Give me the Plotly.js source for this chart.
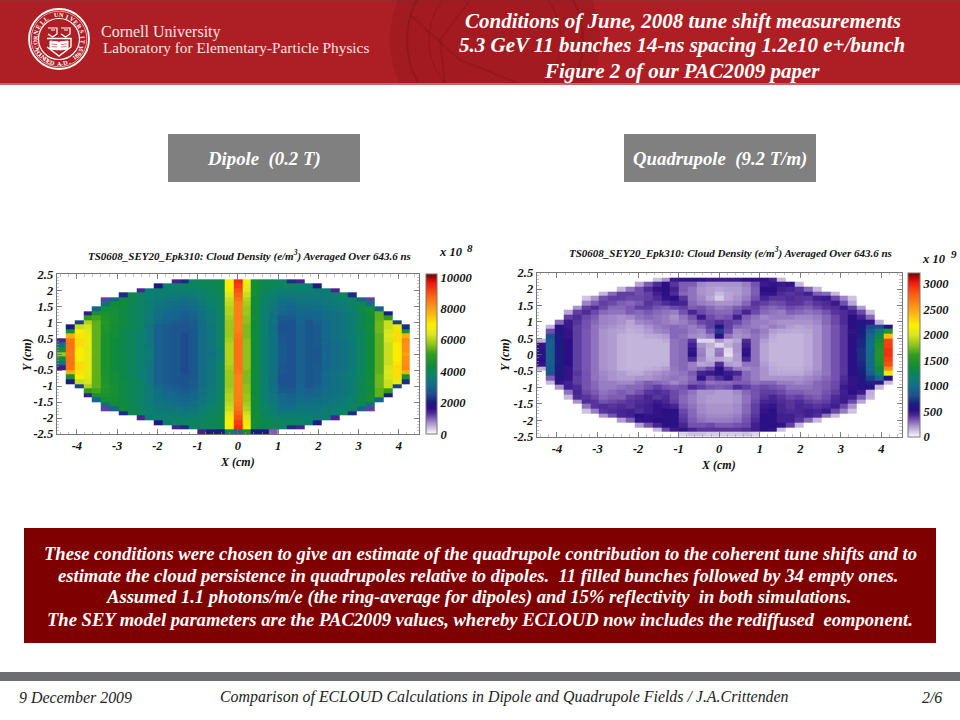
<!DOCTYPE html>
<html><head><meta charset="utf-8">
<script src="https://cdn.plot.ly/plotly-3.0.1.min.js"></script>
<style>html,body{margin:0;padding:0;background:#fff}#c{width:960px;height:720px}</style>
</head><body><div id="c"></div>
<script>
const _ = null;
const at = (start, vals) => Array(start).fill(_).concat(vals);

const xCentres = [-4.39,-4.17,-3.95,-3.73,-3.51,-3.29,-3.07,-2.85,-2.63,-2.41,-2.2,-1.98,-1.76,-1.54,-1.32,-1.1,-0.88,-0.66,-0.44,-0.22,0,0.22,0.44,0.66,0.88,1.1,1.32,1.54,1.76,1.98,2.2,2.41,2.63,2.85,3.07,3.29,3.51,3.73,3.95,4.17,4.39];
const yCentres = [2.429,2.286,2.143,2,1.857,1.714,1.571,1.429,1.286,1.143,1,0.857,0.714,0.571,0.429,0.286,0.143,0,-0.143,-0.286,-0.429,-0.571,-0.714,-0.857,-1,-1.143,-1.286,-1.429,-1.571,-1.714,-1.857,-2,-2.143,-2.286,-2.429];
const xTickVals = [-4,-3,-2,-1,0,1,2,3,4];
const xTickText = ['-4','-3','-2','-1','0','1','2','3','4'];
const yTickVals = [-2.5,-2,-1.5,-1,-0.5,0,0.5,1,1.5,2,2.5];
const yTickText = ['-2.5','-2','-1.5','-1','-0.5','0','0.5','1','1.5','2','2.5'];
const dipoleBarVals = [0,2000,4000,6000,8000,10000];
const dipoleBarText = ['0','2000','4000','6000','8000','10000'];
const quadBarVals = [0,500,1000,1500,2000,2500,3000];
const quadBarText = ['0','500','1000','1500','2000','2500','3000'];

// dipole cloud density, read per cell, in units of 100 (x 10^8 e/m3)
const dipoleDensity = [
 at(41,[]),
 at(13,[14,22,38,40,40,41,68,94,68,44,40,40,38,22,14]),
 at(11,[20,36,38,39,39,39,40,41,68,92,66,44,41,40,39,39,38,36,20]),
 at(9,[14,35,37,37,37,37,37,38,39,41,67,90,64,44,40,38,37,37,37,37,36,35,14]),
 at(7,[22,41,39,37,36,36,35,35,35,37,38,40,64,88,62,44,39,37,35,35,35,35,35,36,37,39,22]),
 at(5,[12,30,42,41,38,37,35,34,34,33,34,36,38,40,62,86,60,43,38,36,33,33,34,34,34,35,36,37,39,30,12]),
 at(5,[33,43,43,40,38,36,34,33,32,32,32,35,37,39,61,84,59,43,38,35,32,31,33,33,33,34,35,36,38,40,33]),
 at(4,[30,44,44,42,40,38,36,33,32,31,30,31,34,36,39,60,84,58,43,37,34,31,30,32,31,32,33,34,35,37,42,44,30]),
 at(3,[15,46,46,45,42,40,38,35,33,31,30,29,30,33,35,38,60,84,58,43,37,34,30,29,31,30,30,32,33,34,36,40,44,54,20]),
 at(3,[50,52,47,45,42,40,38,35,32,30,29,28,29,33,35,38,59,84,57,43,37,33,28,28,30,29,30,32,33,34,36,40,43,54,50]),
 at(2,[24,60,54,48,45,42,40,38,35,31,29,28,27,28,32,35,38,58,84,57,43,37,33,27,26,30,27,29,31,33,34,36,40,43,55,62,24]),
 at(1,[20,62,63,54,47,44,42,40,38,34,29,28,27,26,28,32,34,38,58,84,56,43,37,32,26,26,29,27,28,31,33,34,36,40,44,55,62,66,22]),
 at(1,[45,68,65,54,47,44,41,39,37,34,29,28,27,26,27,32,34,38,58,84,56,43,37,33,26,26,29,27,28,31,33,34,36,40,43,55,63,72,45]),
 at(1,[78,71,66,54,46,44,41,39,37,34,29,28,27,25,27,32,34,38,58,85,56,43,37,33,27,26,29,27,28,31,33,34,36,39,43,54,64,72,78]),
 [14,85,72,66,54,46,43,41,39,37,34,29,28,27,25,27,32,34,38,59,86,57,43,37,33,27,26,29,27,28,30,32,33,35,39,43,54,63,72,83],
 [33,86,72,66,54,46,43,41,39,37,34,29,28,27,25,27,32,34,38,60,86,57,43,37,33,28,26,29,27,28,30,32,33,35,39,43,54,62,70,82],
 [44,86,70,65,54,46,43,41,39,37,35,29,28,27,25,27,32,34,37,60,86,57,43,37,33,28,26,29,27,27,30,32,33,35,39,43,54,62,70,82],
 [58,85,70,66,54,46,43,41,39,37,35,29,28,27,25,27,32,33,37,60,86,57,43,37,33,28,26,29,27,27,30,32,33,35,39,43,54,62,70,80],
 [44,86,70,65,54,46,43,41,39,37,35,29,28,27,25,27,32,34,37,60,86,57,43,37,33,28,26,29,27,27,30,32,33,35,39,43,54,62,70,82],
 [33,86,72,66,54,46,43,41,39,37,34,29,28,27,25,27,32,34,38,60,86,57,43,37,33,28,26,29,27,28,30,32,33,35,39,43,54,62,71,82],
 [15,85,72,66,54,46,43,41,39,37,34,29,28,27,25,27,32,34,38,59,86,57,43,37,33,27,26,29,27,28,30,32,33,35,39,43,54,63,72,83],
 at(1,[78,71,66,54,46,44,41,39,37,34,29,28,27,25,27,32,34,38,58,85,56,43,37,33,27,26,29,27,28,31,33,34,36,39,43,54,64,72,78]),
 at(1,[45,68,65,54,47,44,41,39,37,34,29,28,27,26,27,32,34,38,58,84,56,43,37,33,26,26,29,27,28,31,33,34,36,40,43,55,63,72,45]),
 at(1,[20,62,63,54,47,44,42,40,38,34,29,28,27,26,28,32,34,38,58,84,56,43,37,32,26,26,29,27,28,31,33,34,36,40,44,55,62,66,22]),
 at(2,[24,60,54,48,45,42,40,38,35,31,29,28,27,28,32,35,38,58,84,57,43,37,33,27,26,30,27,29,31,33,34,36,40,43,55,62,24]),
 at(3,[50,52,47,45,42,40,38,35,32,30,29,28,29,33,35,38,59,84,57,43,37,33,28,28,30,29,30,32,33,34,36,40,43,54,50]),
 at(3,[15,46,46,45,42,40,38,35,33,31,30,29,30,33,35,38,60,84,58,43,37,34,30,29,31,30,30,32,33,34,36,40,44,54,20]),
 at(4,[30,44,44,42,40,38,36,33,32,31,30,31,34,36,39,60,84,58,43,37,34,31,30,32,31,32,33,34,35,37,42,44,30]),
 at(5,[33,43,43,40,38,36,34,33,32,32,32,35,37,39,61,85,59,43,38,35,32,31,33,33,33,34,35,36,38,40,33]),
 at(5,[12,30,42,41,38,37,35,34,34,33,34,36,38,40,62,86,60,43,38,36,33,33,34,34,34,35,36,37,39,30,12]),
 at(7,[22,41,39,37,36,36,35,35,35,37,38,40,64,88,62,44,39,37,35,35,35,35,35,36,37,39,22]),
 at(9,[14,35,37,37,37,37,37,38,39,41,67,90,64,44,40,38,37,37,37,37,36,35,14]),
 at(11,[20,36,38,39,39,39,40,41,68,92,66,44,41,40,39,39,38,36,20]),
 at(13,[14,22,38,40,40,41,68,94,68,44,40,40,38,22,14]),
 at(16,[14,20,20,38,33,45,20,20,10])
];

// quadrupole cloud density, read per cell, in units of 10 (x 10^9 e/m3)
const quadDensity = [
 at(41,[]),
 at(13,[12,22,48,50,50,50,48,48,48,48,50,50,50,45,14]),
 at(11,[18,32,42,52,40,32,32,24,22,22,22,22,26,34,48,50,48,50,14]),
 at(9,[15,28,35,42,50,52,45,32,28,22,20,18,20,20,24,32,52,52,46,44,40,30,14]),
 at(7,[15,30,38,38,35,38,46,52,42,30,28,22,20,14,18,20,24,32,50,50,42,40,42,46,32,30,14]),
 at(5,[12,22,35,38,38,36,36,38,42,50,52,40,28,24,18,10,18,22,26,34,45,40,40,42,40,40,46,48,36,25,12]),
 at(5,[25,32,38,36,32,30,33,40,38,42,46,45,30,26,24,22,22,24,30,40,38,35,36,40,40,36,40,42,48,35,18]),
 at(4,[22,38,42,36,30,30,33,38,38,34,32,36,38,32,34,30,26,28,32,36,38,32,30,32,36,34,32,36,40,42,48,38,20]),
 at(3,[18,38,42,36,30,28,28,32,30,33,30,28,26,34,44,36,32,30,30,36,44,36,30,28,26,32,30,28,30,34,40,42,46,36,14]),
 at(3,[38,42,36,32,25,24,22,24,28,30,28,26,22,28,34,48,36,32,34,46,32,28,24,26,26,26,24,24,26,30,36,42,52,45,30]),
 at(2,[30,48,40,34,30,25,24,22,18,24,26,28,26,24,26,30,36,38,42,38,36,30,26,26,24,22,22,22,22,24,30,36,42,52,60,50,16]),
 at(1,[15,55,48,38,34,28,24,22,20,17,18,22,26,28,30,28,26,30,38,52,38,30,28,26,24,26,24,20,18,20,22,28,34,40,52,62,78,80,55]),
 at(1,[35,58,50,38,33,28,22,20,18,16,17,20,24,26,30,30,26,24,34,75,36,24,26,30,26,20,18,17,17,18,22,28,34,40,50,62,88,110,150]),
 at(1,[84,62,50,38,33,28,22,20,16,15,15,17,18,20,30,28,24,22,26,52,28,22,24,28,24,17,15,15,15,17,22,28,34,40,52,66,95,130,240]),
 [15,88,62,52,38,33,28,22,20,16,15,15,15,15,17,28,30,40,8,8,22,14,18,42,28,20,16,15,15,15,17,22,28,34,40,52,68,98,140,290],
 [50,90,64,52,38,33,28,22,20,16,15,15,15,15,15,28,30,46,22,16,8,16,22,46,28,18,15,15,15,15,17,22,28,34,40,52,68,100,145,290],
 [55,90,64,52,38,33,28,22,20,16,15,15,15,15,15,28,30,50,25,14,26,8,22,50,28,18,15,15,15,15,17,22,28,34,40,52,70,100,150,295],
 [58,90,64,52,38,33,28,22,20,16,15,15,15,15,15,28,30,52,26,14,28,6,20,52,28,18,15,15,15,15,17,22,28,34,40,52,70,100,150,295],
 [52,90,64,52,38,33,28,22,20,16,15,15,15,15,15,28,30,42,24,16,18,14,20,44,28,18,15,15,15,15,17,22,28,34,40,52,70,100,150,290],
 [50,90,64,52,38,33,28,22,20,16,15,15,15,15,16,28,30,26,18,20,42,20,18,28,28,20,16,15,15,15,17,22,28,34,40,52,68,98,145,285],
 [15,88,62,50,38,33,28,22,20,16,15,15,16,17,20,27,30,26,30,36,52,36,26,24,26,22,17,16,16,16,18,22,28,34,40,52,66,95,135,260],
 at(1,[84,60,50,40,34,28,24,22,20,17,17,20,22,24,26,28,32,45,48,55,48,44,30,26,22,18,17,17,17,20,24,28,34,40,52,64,90,120,210]),
 at(1,[32,58,50,38,34,28,25,22,20,20,22,22,24,26,28,26,30,50,36,42,50,36,30,26,22,22,22,22,22,24,26,30,34,42,50,60,75,95,55]),
 at(1,[14,50,46,38,34,30,26,26,24,24,28,32,30,28,24,28,32,34,28,30,30,32,32,28,30,30,26,26,24,26,30,32,36,44,50,58,68,50,14]),
 at(2,[22,46,42,34,30,26,26,28,30,30,34,38,34,32,34,42,38,34,32,34,42,38,34,36,34,32,28,28,28,30,32,36,48,50,55,55,14]),
 at(3,[28,44,36,32,28,30,32,30,34,40,42,40,36,32,28,22,22,20,20,24,30,34,38,38,36,32,32,30,30,34,38,46,52,48,16]),
 at(3,[14,42,40,36,30,32,32,38,40,44,40,42,36,30,26,22,20,20,20,22,28,34,40,44,40,36,38,34,32,36,42,48,46,32,14]),
 at(4,[22,42,40,34,36,38,40,42,44,48,44,38,30,26,22,20,20,20,22,28,36,44,46,42,40,42,38,36,38,44,48,36,18]),
 at(5,[28,40,42,40,42,40,44,46,50,48,44,32,28,24,22,22,22,24,30,38,48,50,44,40,44,42,40,42,46,36,22]),
 at(5,[12,26,40,42,44,46,42,46,50,52,52,36,30,24,22,22,22,24,30,38,50,52,44,42,44,46,44,48,36,26,12]),
 at(7,[22,34,44,46,52,50,50,54,54,38,30,26,24,24,24,26,32,40,52,52,46,46,42,46,42,28,14]),
 at(9,[20,32,50,50,52,54,54,40,32,28,26,26,26,28,34,42,52,54,46,46,40,30,14]),
 at(11,[20,34,44,54,54,44,34,34,36,32,32,34,36,46,54,52,50,38,14]),
 at(13,[14,36,48,50,44,40,40,40,40,40,42,46,52,50,12]),
 at(16,[8,12,12,10,10,10,10,12,8])
];

const paletteStops = [0,0.02,0.045,0.07,0.1,0.13,0.16,0.2,0.25,0.3,0.36,0.42,0.5,0.56,0.62,0.68,0.74,0.8,0.87,0.94,1];
const paletteColours = ['#ffffff','#e4dcf0','#c4b6dc','#a890cc','#7c5cb4','#4e2c98','#2e0f85','#1c1c80','#1f4f8f','#15688e','#0c8070','#0f8a3c','#2f9e1e','#8ec31b','#d8e61e','#fdf100','#fdc010','#fb9218','#f95e14','#f01a10','#7a0000'];
const paletteScale = paletteStops.map((s,i)=>[s,paletteColours[i]]);

const X = px => px/960, Y = py => 1-py/720;
const serif = 'Liberation Serif';
const biFont = (size,color) => ({family:serif,size,color:color||'#111',weight:'bold',style:'italic'});

function rect(x0,y0,x1,y1,fill){return {type:'rect',xref:'paper',yref:'paper',x0:X(x0),x1:X(x1),y0:Y(y0),y1:Y(y1),fillcolor:fill,line:{width:0},layer:'below'};}
function circle(cx,cy,r,line,fill,w){return {type:'circle',xref:'paper',yref:'paper',x0:X(cx-r),x1:X(cx+r),y0:Y(cy+r),y1:Y(cy-r),fillcolor:fill||'rgba(0,0,0,0)',line:{color:line||'rgba(0,0,0,0)',width:w===undefined?1:w},layer:'below'};}
function poly(pts,line,w,fill){return {type:'path',xref:'paper',yref:'paper',path:'M'+pts.map(p=>X(p[0])+' '+Y(p[1])).join(' L')+(fill?' Z':''),line:{color:line,width:w},fillcolor:fill||'rgba(0,0,0,0)',layer:'below'};}
function txt(x,y,text,font,opt){return Object.assign({xref:'paper',yref:'paper',x:X(x),y:Y(y),text,font,showarrow:false,xanchor:'center',yanchor:'middle',borderpad:0},opt||{});}

const W='#fff';
const shapes=[
 rect(0,0,960,84,'#ae1f25'),
 rect(0,0,960,1.5,'#9a2a2e'),
 circle(495,40,105,null,'rgba(125,15,20,0.22)'),
 circle(495,40,88,'rgba(100,8,12,0.22)','rgba(165,28,34,0.30)',2),
 circle(495,40,66,'rgba(100,8,12,0.18)','rgba(0,0,0,0)',1.2),
 poly([[410,15],[460,60],[520,84]],'rgba(100,8,12,0.16)',2),
 poly([[470,0],[440,40],[445,84]],'rgba(100,8,12,0.16)',2),
 rect(0,83,960,85,'#c9656a'),
 rect(0,85,960,720,'#ffffff'),
 rect(168,134,360,182,'#808080'),
 rect(624,134,816,182,'#808080'),
 rect(24,528,936,643,'#7f0000'),
 rect(0,672,960,681,'#6d6e71'),
 circle(59,39,30,W,null,1.8),
 circle(59,39,27.8,W,null,0.6),
 circle(59,39,20.5,W,null,1.2),
 poly([[48,28],[57,28],[57,34],[52.5,37],[48,34]],W,1.2),
 poly([[61,28],[70,28],[70,34],[65.5,37],[61,34]],W,1.2),
 poly([[47,38.5],[71,38.5],[71,47],[59,56],[47,47]],W,1.4),
 poly([[50,41],[58.5,42],[58.5,50],[50,49]],W,1,W),
 poly([[68,41],[59.5,42],[59.5,50],[68,49]],W,1,W),
 poly([[51,30],[55,30]],W,1),
 poly([[64,30],[68,30]],W,1),
 poly([[51.5,44],[57,44.6]],'#ae1f25',0.6),
 poly([[51.5,46.5],[57,47]],'#ae1f25',0.6),
 poly([[66.5,44],[61,44.6]],'#ae1f25',0.6),
 poly([[66.5,46.5],[61,47]],'#ae1f25',0.6)
];

const sealFont={family:serif,size:6.2,color:W,weight:'bold'};
const annotations=[];
function arcText(str,from,to,flip){
  const n=str.length;
  str.split('').forEach((ch,i)=>{
    if(ch===' ')return;
    const th=from+(to-from)*i/(n-1), rad=th*Math.PI/180, r=24.2;
    annotations.push(txt(59+r*Math.sin(rad),39-r*Math.cos(rad),ch,sealFont,{textangle:flip?th-180:th}));
  });
}
const sealTop='CORNELL UNIVERSITY', sealBottom='FOUNDED A.D. 1865';
arcText(sealTop,-112,112,false);
arcText(sealBottom,242,118,true);

annotations.push(
 txt(161,32,'Cornell University',{family:serif,size:16,color:'#f6e2e2'}),
 txt(236,48,'Laboratory for Elementary-Particle Physics',{family:serif,size:15.3,color:'#f6e2e2'}),
 txt(683,20.5,'Conditions of June, 2008 tune shift measurements',biFont(21,W)),
 txt(682,45,'5.3 GeV 11 bunches 14-ns spacing 1.2e10 e+/bunch',biFont(21,W)),
 txt(682,71,'Figure 2 of our PAC2009 paper',biFont(21,W)),
 txt(264,159,'Dipole&nbsp;&nbsp;(0.2 T)',biFont(18.8,W)),
 txt(720,159,'Quadrupole&nbsp;&nbsp;(9.2 T/m)',biFont(18.8,W)),
 txt(249,255.5,'TS0608_SEY20_Epk310: Cloud Density (e/m<sup>3</sup>) Averaged Over 643.6 ns',biFont(11)),
 txt(730,253,'TS0608_SEY20_Epk310: Cloud Density (e/m<sup>3</sup>) Averaged Over 643.6 ns',biFont(11)),
 txt(27,355,'Y (cm)',biFont(12),{textangle:-90}),
 txt(237,462,'X (cm)',biFont(12)),
 txt(505,354,'Y (cm)',biFont(12),{textangle:-90}),
 txt(718,465,'X (cm)',biFont(12)),
 txt(451,252,'x 10',biFont(12.5)),
 txt(470,248,'8',biFont(11)),
 txt(934,259,'x 10',biFont(12.5)),
 txt(954,254,'9',biFont(11)),
 txt(480,553,'These conditions were chosen to give an estimate of the quadrupole contribution to the coherent tune shifts and to',biFont(18.6,W)),
 txt(478,575,'estimate the cloud persistence in quadrupoles relative to dipoles.&nbsp;&nbsp;11 filled bunches followed by 34 empty ones.',biFont(18.6,W)),
 txt(478,597,'Assumed 1.1 photons/m/e (the ring-average for dipoles) and 15% reflectivity&nbsp;&nbsp;in both simulations.',biFont(18.6,W)),
 txt(480,619,'The SEY model parameters are the PAC2009 values, whereby ECLOUD now includes the rediffused&nbsp;&nbsp;eomponent.',biFont(18.6,W)),
 txt(75,697,'9 December 2009',{family:serif,size:15.9,style:'italic',color:'#222'}),
 txt(504,697,'Comparison of ECLOUD Calculations in Dipole and Quadrupole Fields / J.A.Crittenden',{family:serif,size:15.9,style:'italic',color:'#222'}),
 txt(932,697,'2/6',{family:serif,size:15.9,style:'italic',color:'#222'})
);

function axis(dom,anchor,vals,text,minorStep,range){
  return {domain:dom,anchor,range,tickmode:'array',tickvals:vals,ticktext:text,ticks:'inside',ticklen:5,tickwidth:0.8,tickcolor:'#666',
    showgrid:false,zeroline:false,showline:true,linecolor:'#777',linewidth:1,mirror:'ticks',
    tickfont:biFont(12.5),minor:{ticks:'inside',ticklen:2.5,dtick:minorStep,tick0:0,tickcolor:'#999',tickwidth:0.6,showgrid:false},layer:'above traces'};
}
function bar(x,yTop,yBot,th,vals,text){
  return {x:X(x),xanchor:'left',xref:'paper',y:1-((yTop+yBot)/2)/720,yanchor:'middle',yref:'paper',thickness:th,thicknessmode:'pixels',
    len:(yBot-yTop)/720,lenmode:'fraction',xpad:0,ypad:0,outlinewidth:1,outlinecolor:'#777',borderwidth:0,
    tickmode:'array',tickvals:vals,ticktext:text,ticks:'',tickfont:biFont(12.5)};
}
const scaled=(rows,f)=>rows.map(r=>r.map(v=>v===null?null:v*f));

const traces=[
 {type:'heatmap',x:xCentres,y:yCentres,z:scaled(dipoleDensity,100),zmin:0,zmax:10200,zsmooth:false,colorscale:paletteScale,hoverinfo:'skip',xaxis:'x',yaxis:'y',
  colorbar:bar(425.7,274.3,434,11,dipoleBarVals,dipoleBarText)},
 {type:'heatmap',x:xCentres,y:yCentres,z:scaled(quadDensity,10),zmin:0,zmax:3220,zsmooth:false,colorscale:paletteScale,hoverinfo:'skip',xaxis:'x2',yaxis:'y2',
  colorbar:bar(907.7,272.7,436.7,12,quadBarVals,quadBarText)}
];

const layout={width:960,height:720,margin:{l:0,r:0,t:0,b:0},paper_bgcolor:'#fff',plot_bgcolor:'rgba(0,0,0,0)',showlegend:false,
 font:{family:serif},shapes,annotations,
 xaxis:axis([X(56.7),X(419)],'y',xTickVals,xTickText,0.2,[-4.5,4.5]),
 yaxis:axis([Y(434),Y(274.3)],'x',yTickVals,yTickText,0.1,[-2.5,2.5]),
 xaxis2:axis([X(536.7),X(901.7)],'y2',xTickVals,xTickText,0.2,[-4.5,4.5]),
 yaxis2:axis([Y(436.7),Y(272.7)],'x2',yTickVals,yTickText,0.1,[-2.5,2.5])
};
Plotly.newPlot('c',traces,layout,{displayModeBar:false,staticPlot:true});
</script></body></html>
